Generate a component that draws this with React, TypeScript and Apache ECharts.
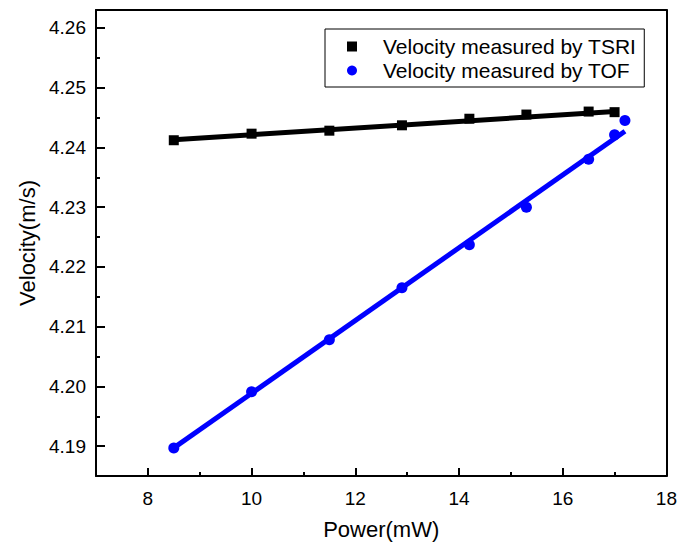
import React, { useEffect, useRef } from "react";
import * as echarts from "echarts";

const powerTSRI = [8.5, 10, 11.5, 12.9, 14.2, 15.3, 16.5, 17];
const velocityTSRI = [4.2412, 4.2423, 4.2428, 4.2437, 4.2448, 4.2455, 4.246, 4.2459];
const powerTOF = [8.5, 10, 11.5, 12.9, 14.2, 15.3, 16.5, 17, 17.2];
const velocityTOF = [4.1897, 4.1991, 4.2078, 4.2165, 4.2237, 4.23, 4.238, 4.2421, 4.2445];
const fitPowerTSRI = [8.5, 17];
const fitVelocityTSRI = [4.2413, 4.246];
const fitPowerTOF = [8.5, 17.2];
const fitVelocityTOF = [4.1897, 4.2427];

const seriesNames = ["Velocity measured by TSRI", "Velocity measured by TOF"];
const xTitle = "Power(mW)";
const yTitle = "Velocity(m/s)";
const xRange = [7, 18];
const yRange = [4.185, 4.263];

const FONT = '"Liberation Sans", Arial, sans-serif';
const SQUARE = "path://M0 0H10V10H0Z";
const INK = "#000000";

function pairs(xs: number[], ys: number[]) {
  return xs.map((x, i) => [x, ys[i]]);
}

export default function App() {
  const ref = useRef<HTMLDivElement>(null);
  useEffect(() => {
    document.body.style.margin = "0";
    const chart = echarts.init(ref.current!, null, { renderer: "svg" });
    chart.setOption({
      animation: false,
      grid: { left: 96, right: 12, top: 10, bottom: 69 },
      legend: {
        orient: "vertical",
        left: 325,
        top: 29,
        padding: [7, 8, 6, 22],
        itemGap: 3,
        itemWidth: 52,
        itemHeight: 10,
        borderColor: INK,
        borderWidth: 1,
        textStyle: { fontFamily: FONT, fontSize: 21, color: INK },
        data: [
          { name: seriesNames[0], icon: SQUARE },
          { name: seriesNames[1], icon: "circle" },
        ],
      },
      xAxis: [
        {
          type: "value",
          min: xRange[0],
          max: xRange[1],
          splitNumber: 5,
          name: xTitle,
          nameLocation: "middle",
          nameGap: 42,
          nameTextStyle: { fontFamily: FONT, fontSize: 22, color: INK },
          axisLine: { show: true, lineStyle: { color: INK, width: 2 } },
          axisTick: { show: true, inside: true, length: 8, lineStyle: { color: INK, width: 2 } },
          minorTick: { show: true, splitNumber: 2, length: 4, lineStyle: { color: INK, width: 2 } },
          axisLabel: { fontFamily: FONT, fontSize: 19, color: INK, margin: 13, showMinLabel: false },
          splitLine: { show: false },
        },
        {
          type: "value",
          position: "top",
          min: xRange[0],
          max: xRange[1],
          axisLine: { show: true, lineStyle: { color: INK, width: 2 } },
          axisTick: { show: false },
          axisLabel: { show: false },
          splitLine: { show: false },
        },
      ],
      yAxis: [
        {
          type: "value",
          min: yRange[0],
          max: yRange[1],
          splitNumber: 8,
          name: yTitle,
          nameLocation: "middle",
          nameGap: 54,
          nameTextStyle: { fontFamily: FONT, fontSize: 22, color: INK },
          axisLine: { show: true, lineStyle: { color: INK, width: 2 } },
          axisTick: { show: true, inside: true, length: 9, lineStyle: { color: INK, width: 2 } },
          minorTick: { show: true, splitNumber: 2, length: 4, lineStyle: { color: INK, width: 2 } },
          axisLabel: {
            fontFamily: FONT,
            fontSize: 19,
            color: INK,
            margin: 10,
            showMinLabel: false,
            showMaxLabel: false,
            formatter: (v: number) => v.toFixed(2),
          },
          splitLine: { show: false },
        },
        {
          type: "value",
          position: "right",
          min: yRange[0],
          max: yRange[1],
          axisLine: { show: true, lineStyle: { color: INK, width: 2 } },
          axisTick: { show: false },
          axisLabel: { show: false },
          splitLine: { show: false },
        },
      ],
      series: [
        {
          name: "TSRI fit",
          type: "line",
          data: pairs(fitPowerTSRI, fitVelocityTSRI),
          symbol: "none",
          lineStyle: { color: INK, width: 5 },
          z: 2,
        },
        {
          name: "TOF fit",
          type: "line",
          data: pairs(fitPowerTOF, fitVelocityTOF),
          symbol: "none",
          lineStyle: { color: "#0000ff", width: 5 },
          z: 2,
        },
        {
          name: seriesNames[0],
          type: "scatter",
          data: pairs(powerTSRI, velocityTSRI),
          symbol: "rect",
          symbolSize: 10,
          itemStyle: { color: INK, opacity: 1 },
          z: 3,
        },
        {
          name: seriesNames[1],
          type: "scatter",
          data: pairs(powerTOF, velocityTOF),
          symbol: "circle",
          symbolSize: 11,
          itemStyle: { color: "#0000ff", opacity: 1 },
          z: 3,
        },
      ],
    });
    return () => chart.dispose();
  }, []);
  return <div ref={ref} style={{ width: 680, height: 545 }} />;
}
